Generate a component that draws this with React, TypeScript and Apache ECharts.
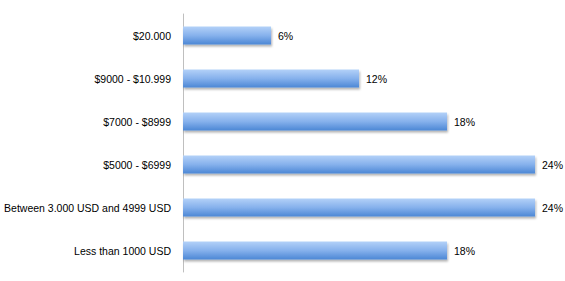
import React, { useEffect, useRef } from "react";
import * as echarts from "echarts";

const categories = [
  "Less than 1000 USD",
  "Between 3.000 USD and 4999 USD",
  "$5000 - $6999",
  "$7000 - $8999",
  "$9000 - $10.999",
  "$20.000",
];
const values = [18, 24, 24, 18, 12, 6];

export default function App() {
  const ref = useRef<HTMLDivElement>(null);
  useEffect(() => {
    if (!ref.current) return;
    const chart = echarts.init(ref.current, null, { renderer: "svg" });
    chart.setOption({
      animation: false,
      backgroundColor: "#ffffff",
      grid: {
        left: 183,
        top: 14,
        bottom: 9,
        width: 366.7,
        containLabel: false,
        outerBoundsMode: "none",
      },
      xAxis: {
        type: "value",
        min: 0,
        max: 25,
        show: false,
      },
      yAxis: {
        type: "category",
        data: categories,
        axisLine: { show: true, lineStyle: { color: "#bfbfbf", width: 1 } },
        axisTick: { show: false },
        axisLabel: {
          margin: 12,
          color: "#000000",
          fontSize: 10.5,
          fontFamily: "Liberation Sans",
        },
      },
      series: [
        {
          type: "bar",
          data: values,
          barWidth: 18,
          itemStyle: {
            color: new echarts.graphic.LinearGradient(0, 0, 0, 1, [
              { offset: 0, color: "#b3d1f8" },
              { offset: 0.5, color: "#86b1ec" },
              { offset: 1, color: "#4c87d5" },
            ]),
            shadowColor: "rgba(0,0,0,0.3)",
            shadowBlur: 2,
            shadowOffsetX: 1,
            shadowOffsetY: 2,
          },
          label: {
            show: true,
            position: "right",
            distance: 7,
            formatter: "{c}%",
            color: "#000000",
            fontSize: 10.5,
            fontFamily: "Liberation Sans",
          },
        },
      ],
    });
    return () => chart.dispose();
  }, []);
  return <div ref={ref} style={{ width: 565, height: 281, position: "absolute", left: 0, top: 0 }} />;
}
